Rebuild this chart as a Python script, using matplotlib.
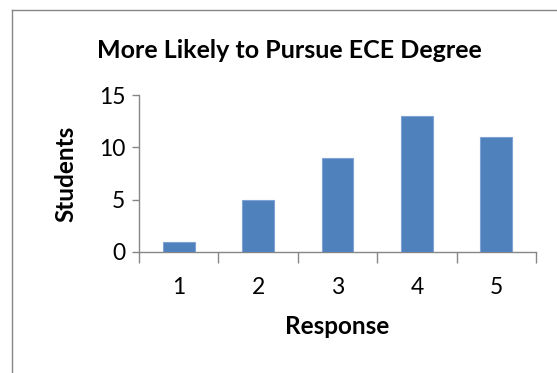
import numpy as np
import matplotlib
import matplotlib.pyplot as plt
from matplotlib.lines import Line2D

responses = [1, 2, 3, 4, 5]
students = [1, 5, 9, 13, 11]
yticks = [0, 5, 10, 15]

matplotlib.rcParams.update({'font.family': ['Lato', 'DejaVu Sans']})

axis_grey = '#868686'
bar_blue = '#4F81BD'

fig = plt.figure(figsize=(5.57, 3.73), dpi=100)
ax = fig.add_axes([0.2496, 0.3244, 0.7127, 0.4209])

ax.bar(responses, students, width=0.4, color=bar_blue,
       edgecolor='#7FA3D4', linewidth=0.8, zorder=3)

ax.set_xlim(0.5, 5.5)
ax.set_ylim(0, 15)
ax.set_yticks(yticks)
ax.set_xticks(responses)
ax.set_xticks(np.arange(0.5, 6.0, 1.0), minor=True)

for side in ['top', 'right']:
    ax.spines[side].set_visible(False)
for side in ['left', 'bottom']:
    ax.spines[side].set_color(axis_grey)
    ax.spines[side].set_linewidth(1.0)

ax.tick_params(axis='y', which='major', length=5, width=1.0, color=axis_grey,
               labelsize=16.5, pad=5)
ax.tick_params(axis='x', which='major', length=0, labelsize=16.5, pad=18)
ax.tick_params(axis='x', which='minor', length=8, width=1.0, color=axis_grey)

ax.set_xlabel('Response', fontsize=17.5, fontweight='bold', labelpad=12)
ax.set_ylabel('Students', fontsize=17.5, fontweight='bold', labelpad=15)

fig.text(0.52, 0.865, 'More Likely to Pursue ECE Degree', ha='center',
         va='center', fontsize=18, fontweight='bold')

# chart area frame, only left and top edges fall inside the canvas
fig.add_artist(Line2D([12 / 557, 12 / 557], [0, 1 - 10 / 373],
                      color=axis_grey, linewidth=1.0))
fig.add_artist(Line2D([12 / 557, 1], [1 - 10 / 373, 1 - 10 / 373],
                      color=axis_grey, linewidth=1.0))

fig.savefig('out.png', dpi=100)
